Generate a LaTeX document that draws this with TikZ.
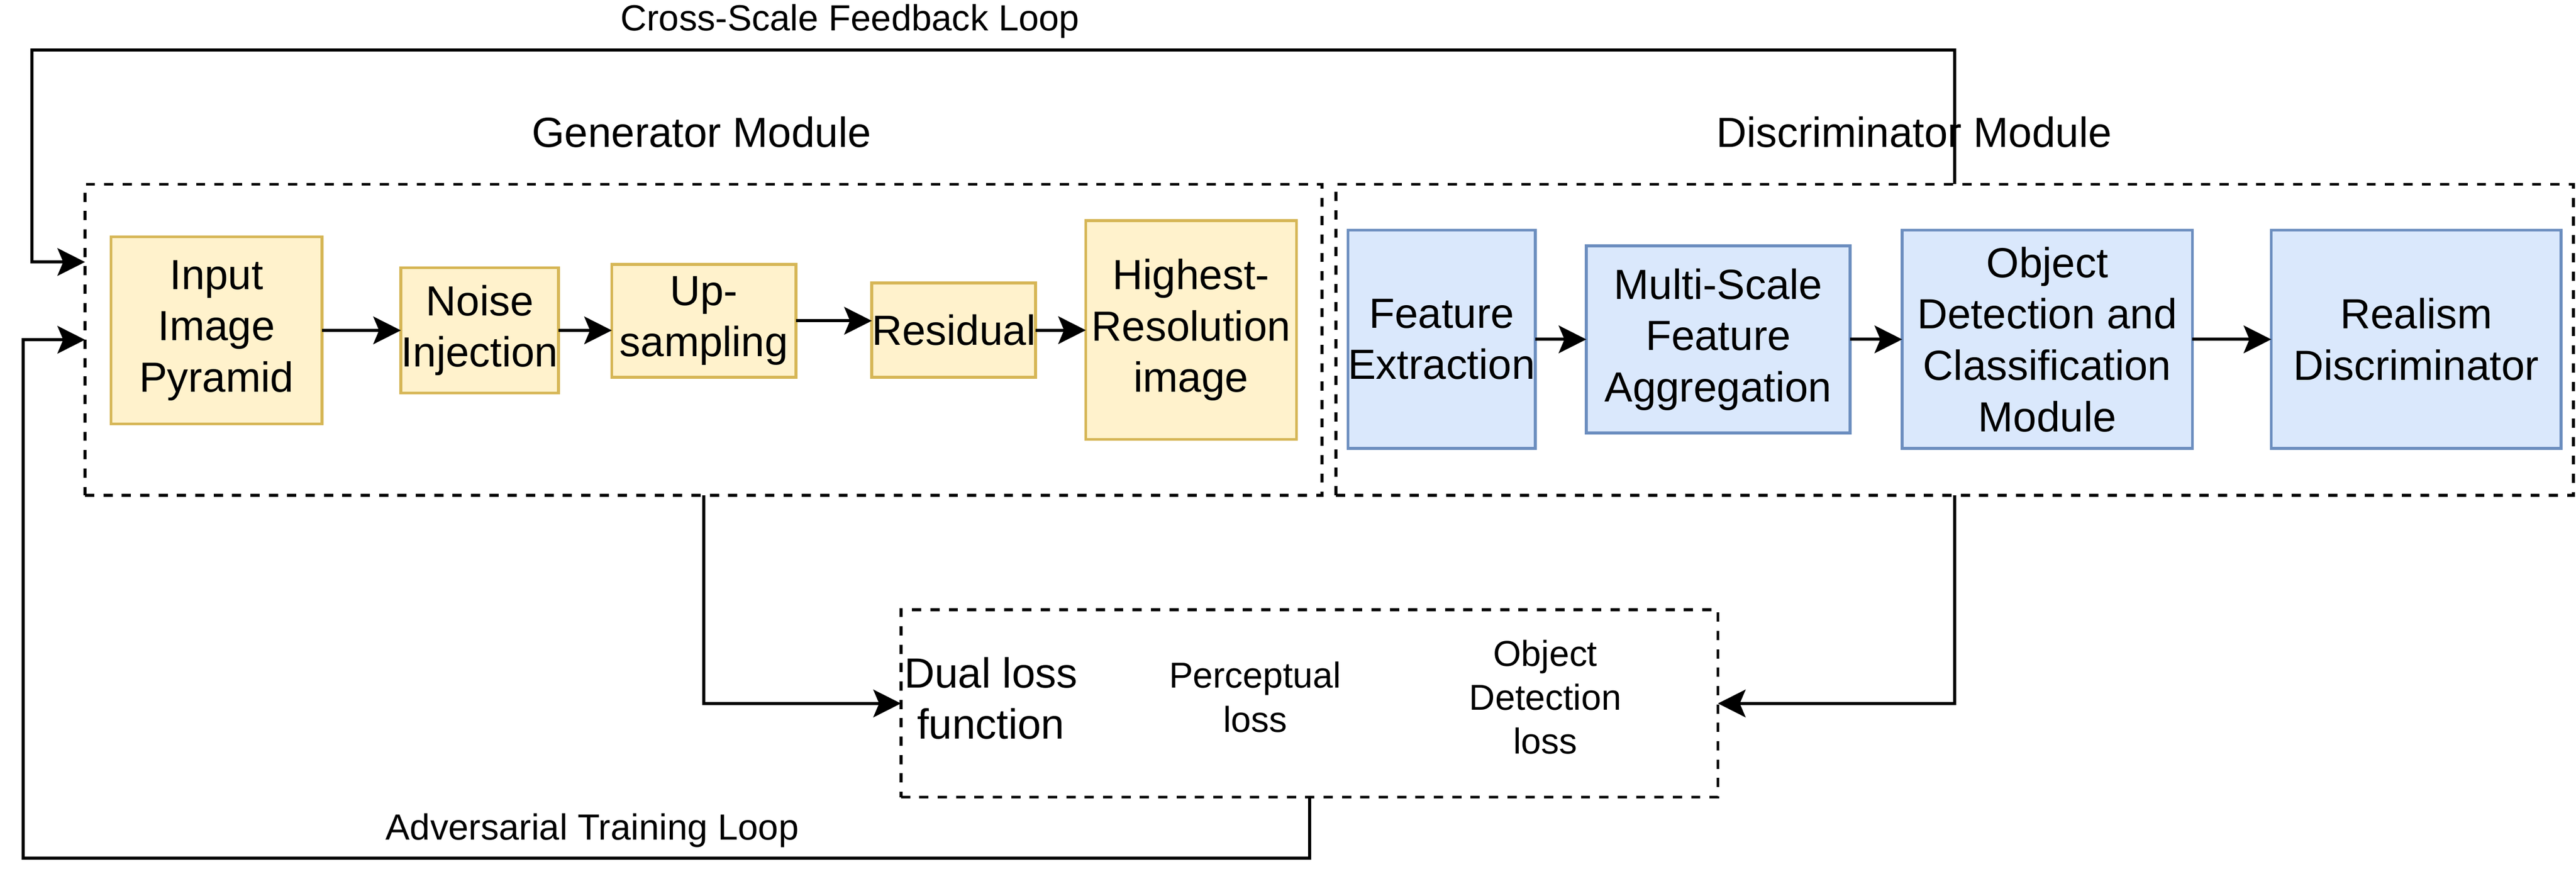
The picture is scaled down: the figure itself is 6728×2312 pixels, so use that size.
\documentclass[tikz,border=0pt]{standalone}
\usepackage{fontspec}
\setmainfont{Liberation Sans}
\usetikzlibrary{arrows.meta,calc}
\definecolor{yfill}{HTML}{FFF2CC}
\definecolor{ydraw}{HTML}{D6B656}
\definecolor{bfill}{HTML}{DAE8FC}
\definecolor{bdraw}{HTML}{6C8EBF}
\begin{document}
\begin{tikzpicture}[x=0.1pt,y=-0.1pt,
  every node/.style={inner sep=0pt,outer sep=0pt},
  conn/.style={line width=0.8pt,-{Stealth[length=7.2pt,width=7.2pt,inset=1.5pt]}},
  boxfont/.style={font=\fontsize{11}{13.4}\selectfont},
  smallfont/.style={font=\fontsize{9.4}{11.5}\selectfont},
  ybox/.style={draw=ydraw,fill=yfill,line width=0.75pt,align=center,boxfont},
  bbox/.style={draw=bdraw,fill=bfill,line width=0.75pt,align=center,boxfont},
  group/.style={draw=black,line width=0.75pt,dash pattern=on 2.4pt off 2.4pt},
  lbl/.style={smallfont,align=center},
  looplbl/.style={font=\fontsize{9.5}{11.5}\selectfont,anchor=base}]
\fill[white] (0,0) rectangle (6728,2312);
\useasboundingbox (0,0) rectangle (6728,2312);

% group frames
\node[group,minimum width=323.1pt,minimum height=81.2pt] (gen) at (1837.5,887) {};
\node[group,minimum width=323.2pt,minimum height=81.2pt] (dis) at (5105,887) {};
\node[group,minimum width=213.4pt,minimum height=48.9pt] (dual) at (3420,1836.5) {};

% titles
\node[boxfont,anchor=base] (gent) at (1832,384) {Generator Module};
\node[boxfont,anchor=base] (dist) at (4999,384) {Discriminator Module};

% generator boxes
\node[ybox,minimum width=55.1pt,minimum height=48.9pt] (inp) at (565.5,862.5) {Input\\Image\\Pyramid};
\node[ybox,minimum width=41.2pt,minimum height=32.7pt] (noise) at (1253,862.5) {Noise\\Injection};
\node[ybox,minimum width=48.1pt,minimum height=29.5pt] (up) at (1838.5,837.5) {Up-\\sampling};
\node[ybox,minimum width=41.2pt,minimum height=24.6pt] (res) at (2491,862) {Residual};
\node[ybox,minimum width=55pt,minimum height=57.1pt] (high) at (3111,861.5) {Highest-\\Resolution\\image};

% discriminator boxes
\node[bbox,minimum width=48.4pt,minimum height=57pt] (fe) at (3765,886) {Feature\\Extraction};
\node[bbox,minimum width=68.9pt,minimum height=48.8pt] (ms) at (4487.5,886) {Multi-Scale\\Feature\\Aggregation};
\node[bbox,minimum width=75.8pt,minimum height=57pt] (od) at (5347,886) {Object\\Detection and\\Classification\\Module};
\node[bbox,minimum width=75.7pt,minimum height=57pt] (rd) at (6310.5,886) {Realism\\Discriminator};

% dual loss texts
\node[boxfont,align=center] (dualt) at (2588,1823) {Dual loss\\function};
\node[lbl] (perc) at (3278,1820) {Perceptual\\loss};
\node[lbl] (odl) at (4036,1820) {Object\\Detection\\loss};

% loop labels
\node[looplbl] (cst) at (2220,80) {Cross-Scale Feedback Loop};
\node[looplbl] (advt) at (1547,2192) {Adversarial Training Loop};

% chain arrows
\draw[conn] (inp.east) -- (inp.east -| noise.west);
\draw[conn] (noise.east) -- (noise.east -| up.west);
\draw[conn] (up.east) -- (up.east -| res.west);
\draw[conn] (res.east) -- (res.east -| high.west);
\draw[conn] (fe.east) -- (fe.east -| ms.west);
\draw[conn] (ms.east) -- (ms.east -| od.west);
\draw[conn] (od.east) -- (od.east -| rd.west);

% loops
\coordinate (fbk) at (83,131);
\coordinate (genin) at ($(gen.north west)!0.25!(gen.south west)$);
\draw[conn] (dis.north) |- (fbk) |- (genin);
\coordinate (adv) at (61,2240);
\draw[conn] (dual.south) |- (adv) |- (gen.west);
\draw[conn] (gen.south) |- (dual.west);
\draw[conn] (dis.south) |- (dual.east);
\end{tikzpicture}
\end{document}
